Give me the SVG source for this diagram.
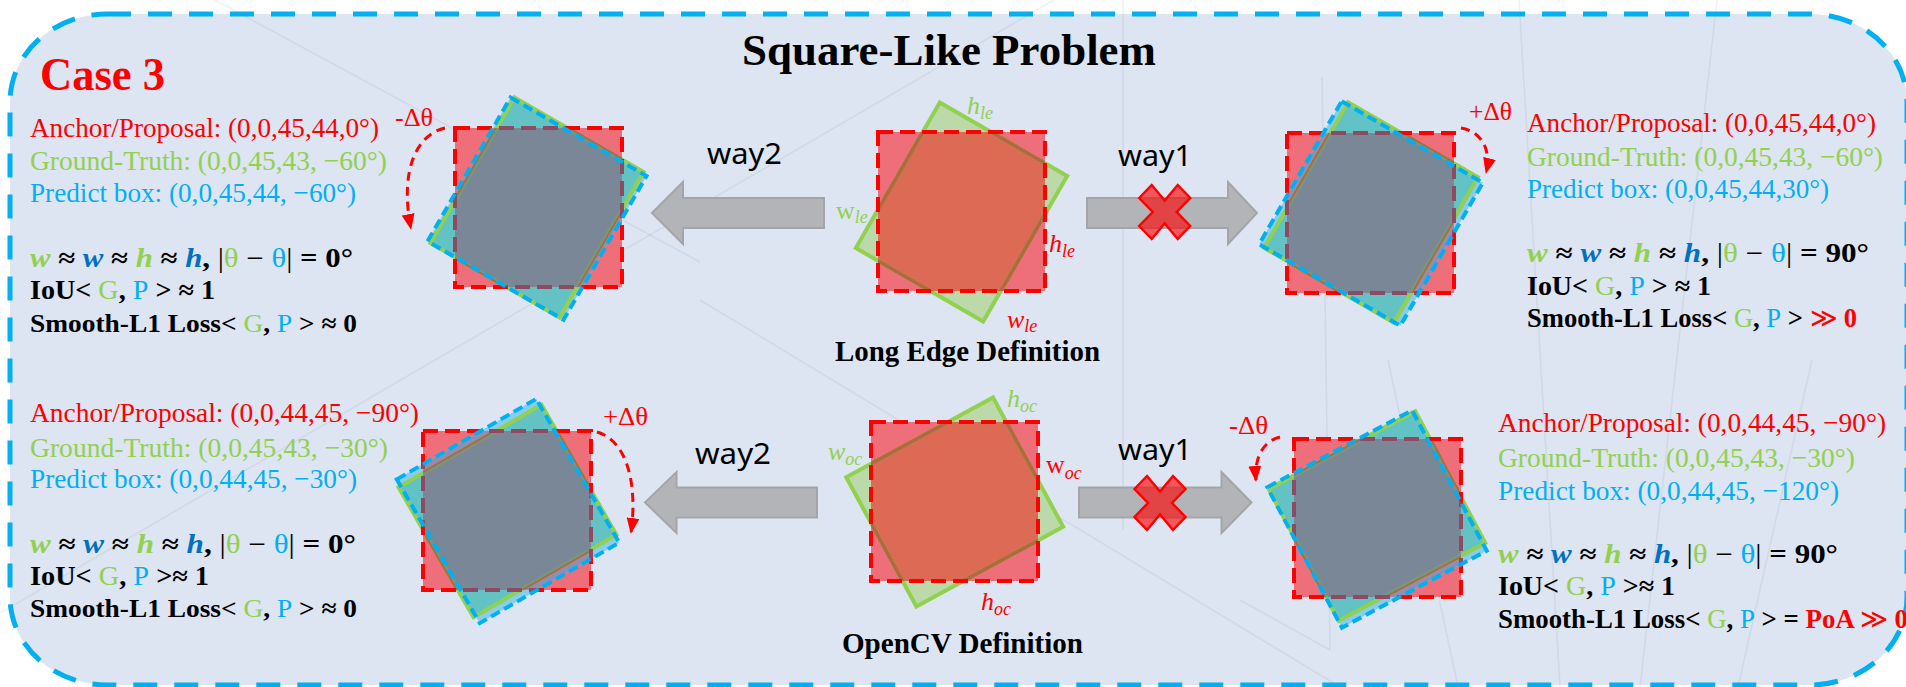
<svg xmlns="http://www.w3.org/2000/svg" width="1906" height="687" viewBox="0 0 1906 687">
<style>
.t{font-family:"Liberation Serif","Times New Roman",serif}
.info{font-size:28px}
.math{font-size:27px;font-weight:bold}
.sm{font-size:26px}
.n{font-weight:normal;font-style:normal}
.i{font-style:italic}
.red{fill:#ff0000}.grn{fill:#92d050}.blu{fill:#00b0f0}.dbl{fill:#0070c0}
.way{font-family:"Noto Sans","Liberation Sans",sans-serif;font-size:29px;fill:#000}
.lab{font-family:"Liberation Serif",serif;font-style:italic;font-size:26px}
.sub{font-size:18px}
.rf{fill:#ee6f79}
.rs{fill:none;stroke:#ff0000;stroke-width:4;stroke-dasharray:15 7}
.ms{fill:none;stroke:#8c4a63;stroke-width:4;stroke-dasharray:15 7}
.gs{fill:none;stroke:#92d050;stroke-width:4}
.bs{fill:none;stroke:#b06a40;stroke-width:4}
.mg{fill:none;stroke:#6f9a88;stroke-width:4}
.bd{fill:none;stroke:#00b0f0;stroke-width:4;stroke-dasharray:10 5}
.teal{fill:#63c2c3}.lb{fill:#86cdf0}.gray{fill:#7a8797}.lav{fill:#8d8fb7}
.lg{fill:#bcdaa9}.org{fill:#dd6a55}
.ga{fill:#b3b4b8;stroke:#a4a5a9;stroke-width:2}
.x{fill:#ff0000;fill-opacity:0.62;stroke:#ff0000;stroke-width:2.5}
.arc{fill:none;stroke:#ff0000;stroke-width:3;stroke-dasharray:9 6}
.bgl{stroke:#8e94a4;stroke-width:1.5;opacity:0.14;fill:none}
</style>
<defs>
<marker id="ah" viewBox="0 0 16 13" refX="15" refY="6.5" markerWidth="16" markerHeight="13" orient="auto" markerUnits="userSpaceOnUse"><path d="M0,0 L16,6.5 L0,13 z" fill="#ff0000"/></marker>
<polygon id="xs" points="-25.5,-14 -13,-27 0,-11.5 13,-27 25.5,-14 12,0 25.5,14 13,27 0,11.5 -13,27 -25.5,14 -12,0"/>
<rect id="tlR" x="455" y="128" width="167" height="159"/>
<rect id="tlG" x="462.5" y="123.5" width="149" height="168" transform="rotate(30 537 207.5)"/>
<rect id="tlB" x="458.5" y="125.7" width="157" height="166" transform="rotate(30 537 208.7)"/>
<rect id="trR" x="1287" y="133" width="167" height="160"/>
<rect id="trG" x="1296" y="128.5" width="150" height="168" transform="rotate(30 1371 212.5)"/>
<rect id="trB" x="1289.5" y="131" width="163" height="165" transform="rotate(30 1371 213.5)"/>
<rect id="blR" x="423" y="431" width="168" height="159"/>
<rect id="blG" x="425" y="436" width="165" height="150" transform="rotate(-30 507.5 511)"/>
<rect id="blB" x="427.5" y="428" width="161" height="166" transform="rotate(-30 508 511)"/>
<rect id="brR" x="1294" y="439" width="167" height="158"/>
<rect id="brG" x="1294" y="441.5" width="166" height="149" transform="rotate(-28 1377 516)"/>
<rect id="brB" x="1295" y="439.5" width="164" height="159" transform="rotate(-28 1377 519)"/>
<rect id="tcR" x="878" y="132" width="167" height="159"/>
<rect id="tcG" x="888" y="128" width="147" height="168" transform="rotate(30 961.5 212)"/>
<rect id="bcR" x="871" y="422" width="167" height="159"/>
<rect id="bcG" x="871.2" y="428.5" width="167" height="147" transform="rotate(-28.5 954.7 502)"/>
<clipPath id="ctlR"><use href="#tlR"/></clipPath>
<clipPath id="ctlB"><use href="#tlB"/></clipPath>
<clipPath id="ctlG"><use href="#tlG"/></clipPath>
<clipPath id="ctrR"><use href="#trR"/></clipPath>
<clipPath id="ctrB"><use href="#trB"/></clipPath>
<clipPath id="ctrG"><use href="#trG"/></clipPath>
<clipPath id="cblR"><use href="#blR"/></clipPath>
<clipPath id="cblB"><use href="#blB"/></clipPath>
<clipPath id="cblG"><use href="#blG"/></clipPath>
<clipPath id="cbrR"><use href="#brR"/></clipPath>
<clipPath id="cbrB"><use href="#brB"/></clipPath>
<clipPath id="cbrG"><use href="#brG"/></clipPath>
<clipPath id="ctcR"><use href="#tcR"/></clipPath>
<clipPath id="cbcR"><use href="#bcR"/></clipPath>
</defs>

<rect x="0" y="0" width="1906" height="687" fill="#ffffff"/>
<rect id="frame" x="10" y="14" width="1897" height="671" rx="97" ry="88" fill="#dde4f2" stroke="#00b0f0" stroke-width="5" stroke-dasharray="24 17"/>

<g id="texture">
<line class="bgl" x1="0" y1="613" x2="1054" y2="0"/>
<line class="bgl" x1="215" y1="0" x2="700" y2="262"/>
<line class="bgl" x1="700" y1="300" x2="1340" y2="687"/>
<line class="bgl" x1="1123" y1="0" x2="1123" y2="530"/>
<line class="bgl" x1="1322" y1="77" x2="1330" y2="650"/>
<line class="bgl" x1="1519" y1="0" x2="1560" y2="687"/>
<line class="bgl" x1="1717" y1="0" x2="1640" y2="687"/>
<line class="bgl" x1="1388" y1="360" x2="1458" y2="687"/>
<line class="bgl" x1="1812" y1="360" x2="1738" y2="687"/>
<line class="bgl" x1="1240" y1="600" x2="1330" y2="650"/>
</g>

<text id="title" class="t" x="742" y="65" font-size="45" font-weight="bold" textLength="414" lengthAdjust="spacingAndGlyphs">Square-Like Problem</text>
<text id="case" class="t red" x="40" y="90" font-size="46" font-weight="bold" textLength="125" lengthAdjust="spacingAndGlyphs">Case 3</text>

<g id="tl-info" class="t">
<text class="info red" x="30" y="137" textLength="349" lengthAdjust="spacingAndGlyphs">Anchor/Proposal: (0,0,45,44,0°)</text>
<text class="info grn" x="30" y="170" textLength="357" lengthAdjust="spacingAndGlyphs">Ground-Truth: (0,0,45,43, −60°)</text>
<text class="info blu" x="30" y="202" textLength="326" lengthAdjust="spacingAndGlyphs">Predict box: (0,0,45,44, −60°)</text>
<text class="math" x="30" y="267" textLength="323" lengthAdjust="spacingAndGlyphs"><tspan class="i grn">w</tspan> ≈ <tspan class="i dbl">w</tspan> ≈ <tspan class="i grn">h</tspan> ≈ <tspan class="i dbl">h</tspan>, <tspan class="n">|</tspan><tspan class="n grn">θ</tspan><tspan class="n"> − </tspan><tspan class="n blu">θ</tspan><tspan class="n">|</tspan> = 0°</text>
<text class="math" x="30" y="299" textLength="185" lengthAdjust="spacingAndGlyphs">IoU&lt; <tspan class="n grn">G</tspan>, <tspan class="n blu">P</tspan> &gt; ≈ 1</text>
<text class="math sm" x="30" y="332" textLength="327" lengthAdjust="spacingAndGlyphs">Smooth-L1 Loss&lt; <tspan class="n grn">G</tspan>, <tspan class="n blu">P</tspan> &gt; ≈ 0</text>
</g>

<g id="tr-info" class="t">
<text class="info red" x="1527" y="132" textLength="349" lengthAdjust="spacingAndGlyphs">Anchor/Proposal: (0,0,45,44,0°)</text>
<text class="info grn" x="1527" y="166" textLength="356" lengthAdjust="spacingAndGlyphs">Ground-Truth: (0,0,45,43, −60°)</text>
<text class="info blu" x="1527" y="198" textLength="302" lengthAdjust="spacingAndGlyphs">Predict box: (0,0,45,44,30°)</text>
<text class="math" x="1527" y="262" textLength="342" lengthAdjust="spacingAndGlyphs"><tspan class="i grn">w</tspan> ≈ <tspan class="i dbl">w</tspan> ≈ <tspan class="i grn">h</tspan> ≈ <tspan class="i dbl">h</tspan>, <tspan class="n">|</tspan><tspan class="n grn">θ</tspan><tspan class="n"> − </tspan><tspan class="n blu">θ</tspan><tspan class="n">|</tspan> = 90°</text>
<text class="math" x="1527" y="295" textLength="184" lengthAdjust="spacingAndGlyphs">IoU&lt; <tspan class="n grn">G</tspan>, <tspan class="n blu">P</tspan> &gt; ≈ 1</text>
<text class="math" x="1527" y="327" font-size="25" textLength="330" lengthAdjust="spacingAndGlyphs">Smooth-L1 Loss&lt; <tspan class="n grn">G</tspan>, <tspan class="n blu">P</tspan> &gt; <tspan class="n red">≫</tspan> <tspan class="red">0</tspan></text>
</g>

<g id="bl-info" class="t">
<text class="info red" x="30" y="422" textLength="389" lengthAdjust="spacingAndGlyphs">Anchor/Proposal: (0,0,44,45, −90°)</text>
<text class="info grn" x="30" y="457" textLength="358" lengthAdjust="spacingAndGlyphs">Ground-Truth: (0,0,45,43, −30°)</text>
<text class="info blu" x="30" y="488" textLength="327" lengthAdjust="spacingAndGlyphs">Predict box: (0,0,44,45, −30°)</text>
<text class="math" x="30" y="553" textLength="326" lengthAdjust="spacingAndGlyphs"><tspan class="i grn">w</tspan> ≈ <tspan class="i dbl">w</tspan> ≈ <tspan class="i grn">h</tspan> ≈ <tspan class="i dbl">h</tspan>, <tspan class="n">|</tspan><tspan class="n grn">θ</tspan><tspan class="n"> − </tspan><tspan class="n blu">θ</tspan><tspan class="n">|</tspan> = 0°</text>
<text class="math" x="30" y="585" textLength="179" lengthAdjust="spacingAndGlyphs">IoU&lt; <tspan class="n grn">G</tspan>, <tspan class="n blu">P</tspan> &gt;≈ 1</text>
<text class="math sm" x="30" y="617" textLength="327" lengthAdjust="spacingAndGlyphs">Smooth-L1 Loss&lt; <tspan class="n grn">G</tspan>, <tspan class="n blu">P</tspan> &gt; ≈ 0</text>
</g>

<g id="br-info" class="t">
<text class="info red" x="1498" y="432" textLength="388" lengthAdjust="spacingAndGlyphs">Anchor/Proposal: (0,0,44,45, −90°)</text>
<text class="info grn" x="1498" y="467" textLength="357" lengthAdjust="spacingAndGlyphs">Ground-Truth: (0,0,45,43, −30°)</text>
<text class="info blu" x="1498" y="500" textLength="341" lengthAdjust="spacingAndGlyphs">Predict box: (0,0,44,45, −120°)</text>
<text class="math" x="1498" y="563" textLength="340" lengthAdjust="spacingAndGlyphs"><tspan class="i grn">w</tspan> ≈ <tspan class="i dbl">w</tspan> ≈ <tspan class="i grn">h</tspan> ≈ <tspan class="i dbl">h</tspan>, <tspan class="n">|</tspan><tspan class="n grn">θ</tspan><tspan class="n"> − </tspan><tspan class="n blu">θ</tspan><tspan class="n">|</tspan> = 90°</text>
<text class="math" x="1498" y="595" textLength="177" lengthAdjust="spacingAndGlyphs">IoU&lt; <tspan class="n grn">G</tspan>, <tspan class="n blu">P</tspan> &gt;≈ 1</text>
<text class="math" x="1498" y="628" font-size="25" textLength="410" lengthAdjust="spacingAndGlyphs">Smooth-L1 Loss&lt; <tspan class="n grn">G</tspan>, <tspan class="n blu">P</tspan> &gt; = <tspan class="red">PoA</tspan> <tspan class="n red">≫</tspan> <tspan class="red">0</tspan></text>
</g>

<g id="tl-box">
<use href="#tlR" class="rf"/>
<use href="#tlB" class="lb"/>
<use href="#tlG" class="teal"/>
<use href="#tlB" class="lav" clip-path="url(#ctlR)"/>
<use href="#tlG" class="gray" clip-path="url(#ctlR)"/>
<use href="#tlG" class="gs"/>
<use href="#tlG" class="bs" clip-path="url(#ctlR)"/>
<g clip-path="url(#ctlR)"><use href="#tlG" class="mg" clip-path="url(#ctlG)"/></g>
<use href="#tlR" class="rs"/>
<use href="#tlR" class="ms" clip-path="url(#ctlB)"/>
<use href="#tlB" class="bd"/>
</g>

<g id="tr-box">
<use href="#trR" class="rf"/>
<use href="#trB" class="lb"/>
<use href="#trG" class="teal"/>
<use href="#trB" class="lav" clip-path="url(#ctrR)"/>
<use href="#trG" class="gray" clip-path="url(#ctrR)"/>
<use href="#trG" class="gs"/>
<use href="#trG" class="bs" clip-path="url(#ctrR)"/>
<g clip-path="url(#ctrR)"><use href="#trG" class="mg" clip-path="url(#ctrG)"/></g>
<use href="#trR" class="rs"/>
<use href="#trR" class="ms" clip-path="url(#ctrB)"/>
<use href="#trB" class="bd"/>
</g>

<g id="bl-box">
<use href="#blR" class="rf"/>
<use href="#blB" class="lb"/>
<use href="#blG" class="teal"/>
<use href="#blB" class="lav" clip-path="url(#cblR)"/>
<use href="#blG" class="gray" clip-path="url(#cblR)"/>
<use href="#blG" class="gs"/>
<use href="#blG" class="bs" clip-path="url(#cblR)"/>
<g clip-path="url(#cblR)"><use href="#blG" class="mg" clip-path="url(#cblG)"/></g>
<use href="#blR" class="rs"/>
<use href="#blR" class="ms" clip-path="url(#cblB)"/>
<use href="#blB" class="bd"/>
</g>

<g id="br-box">
<use href="#brR" class="rf"/>
<use href="#brB" class="lb"/>
<use href="#brG" class="teal"/>
<use href="#brB" class="lav" clip-path="url(#cbrR)"/>
<use href="#brG" class="gray" clip-path="url(#cbrR)"/>
<use href="#brG" class="gs"/>
<use href="#brG" class="bs" clip-path="url(#cbrR)"/>
<g clip-path="url(#cbrR)"><use href="#brG" class="mg" clip-path="url(#cbrG)"/></g>
<use href="#brR" class="rs"/>
<use href="#brR" class="ms" clip-path="url(#cbrB)"/>
<use href="#brB" class="bd"/>
</g>

<g id="long-edge">
<use href="#tcR" class="rf"/>
<use href="#tcG" class="lg"/>
<use href="#tcG" class="org" clip-path="url(#ctcR)"/>
<use href="#tcG" class="gs"/>
<use href="#tcG" class="bs" clip-path="url(#ctcR)"/>
<use href="#tcR" class="rs"/>
<text class="lab grn" x="967" y="114">h<tspan class="sub" dy="5">le</tspan></text>
<text class="lab grn" x="836" y="219"><tspan class="n">w</tspan><tspan class="sub" dy="4">le</tspan></text>
<text class="lab red" x="1049" y="252">h<tspan class="sub" dy="5">le</tspan></text>
<text class="lab red" x="1007" y="328">w<tspan class="sub" dy="4">le</tspan></text>
<text class="t" x="835" y="361" font-size="29" font-weight="bold" textLength="265" lengthAdjust="spacingAndGlyphs">Long Edge Definition</text>
</g>

<g id="opencv">
<use href="#bcR" class="rf"/>
<use href="#bcG" class="lg"/>
<use href="#bcG" class="org" clip-path="url(#cbcR)"/>
<use href="#bcG" class="gs"/>
<use href="#bcG" class="bs" clip-path="url(#cbcR)"/>
<use href="#bcR" class="rs"/>
<text class="lab grn" x="1007" y="407">h<tspan class="sub" dy="5">oc</tspan></text>
<text class="lab grn" x="828" y="460">w<tspan class="sub" dy="5">oc</tspan></text>
<text class="lab red" x="1046" y="473"><tspan class="n">w</tspan><tspan class="sub i" dy="6">oc</tspan></text>
<text class="lab red" x="981" y="610">h<tspan class="sub" dy="5">oc</tspan></text>
<text class="t" x="842" y="653" font-size="29" font-weight="bold" textLength="241" lengthAdjust="spacingAndGlyphs">OpenCV Definition</text>
</g>

<g id="connectors">
<polygon class="ga" points="652,213 683,182 683,198 824,198 824,228 683,228 683,244"/>
<polygon class="ga" points="1087,198 1228,198 1228,182 1257,213 1228,244 1228,228 1087,228"/>
<polygon class="ga" points="645,502.5 676.5,472 676.5,487.5 817,487.5 817,517.5 676.5,517.5 676.5,533"/>
<polygon class="ga" points="1079,487.5 1221.5,487.5 1221.5,472 1251.5,502.5 1221.5,533 1221.5,517.5 1079,517.5"/>
<use href="#xs" x="1164.7" y="212" class="x"/>
<use href="#xs" x="1160" y="503" class="x"/>
<text class="way" x="707" y="164" textLength="75" lengthAdjust="spacingAndGlyphs">way2</text>
<text class="way" x="1118" y="166" textLength="74" lengthAdjust="spacingAndGlyphs">way1</text>
<text class="way" x="695" y="464" textLength="76" lengthAdjust="spacingAndGlyphs">way2</text>
<text class="way" x="1118" y="460" textLength="74" lengthAdjust="spacingAndGlyphs">way1</text>
<path class="arc" d="M445,128 C418,134 399,168 411,229" marker-end="url(#ah)"/>
<path class="arc" d="M1461,128 C1480,131 1492,148 1486,173" marker-end="url(#ah)"/>
<path class="arc" d="M597,432 C626,440 638,482 631,533" marker-end="url(#ah)"/>
<path class="arc" d="M1280,437 C1264,441 1254,456 1256,481" marker-end="url(#ah)"/>
<text class="t red" x="395" y="126" font-size="26" textLength="38" lengthAdjust="spacingAndGlyphs">-Δθ</text>
<text class="t red" x="1469" y="120" font-size="26" textLength="43" lengthAdjust="spacingAndGlyphs">+Δθ</text>
<text class="t red" x="603" y="425" font-size="26" textLength="45" lengthAdjust="spacingAndGlyphs">+Δθ</text>
<text class="t red" x="1229" y="434" font-size="26" textLength="39" lengthAdjust="spacingAndGlyphs">-Δθ</text>
</g>
</svg>
